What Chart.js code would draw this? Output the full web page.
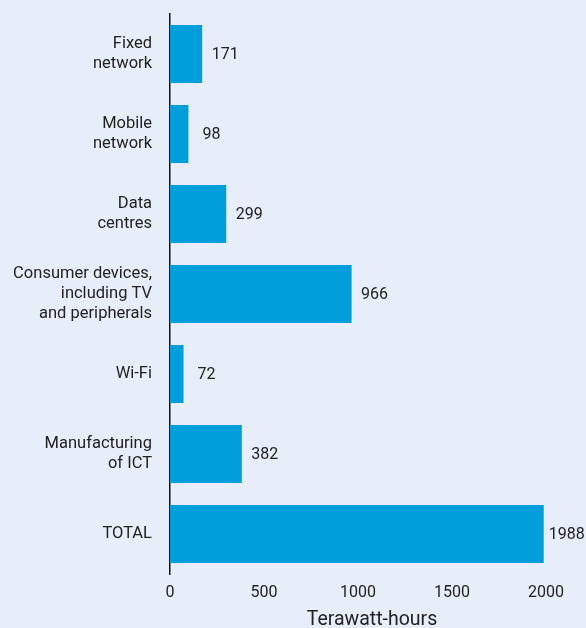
<!DOCTYPE html>
<html>
<head>
<meta charset="utf-8">
<script src="https://cdn.jsdelivr.net/npm/chart.js@4"></script>
<style>
  html, body { margin: 0; padding: 0; background: #e7eef9; }
  #wrap { width: 586px; height: 628px; }
</style>
</head>
<body>
<div id="wrap"><canvas id="chart" width="586" height="628"></canvas></div>
<script>
const categories = [
  ['Fixed', 'network'],
  ['Mobile', 'network'],
  ['Data', 'centres'],
  ['Consumer devices,', 'including TV', 'and peripherals'],
  ['Wi-Fi'],
  ['Manufacturing', 'of ICT'],
  ['TOTAL']
];
const values = [171, 98, 299, 966, 72, 382, 1988];
const xTicks = [0, 500, 1000, 1500, 2000];
const axisTitle = 'Terawatt-hours';

// value labels at bar ends + axis title (sits right of the plot centre)
const valueLabels = {
  id: 'valueLabels',
  afterDatasetsDraw(chart) {
    const ctx = chart.ctx;
    const meta = chart.getDatasetMeta(0);
    ctx.save();
    ctx.font = '16px Roboto';
    ctx.fillStyle = '#222';
    ctx.textAlign = 'center';
    ctx.textBaseline = 'middle';
    meta.data.forEach((bar, i) => {
      ctx.fillText(String(values[i]), bar.x + 23, bar.y + 1);
    });
    ctx.font = '19.5px Roboto';
    ctx.fillText(axisTitle, 372, 620);
    ctx.restore();
  }
};

new Chart(document.getElementById('chart').getContext('2d'), {
  type: 'bar',
  data: {
    labels: categories,
    datasets: [{
      data: values,
      backgroundColor: '#009fdb',
      barPercentage: 0.725,
      categoryPercentage: 1
    }]
  },
  options: {
    indexAxis: 'y',
    responsive: false,
    animation: false,
    layout: { padding: { top: 14, right: 40, bottom: 0, left: 0 } },
    plugins: { legend: { display: false }, tooltip: { enabled: false } },
    scales: {
      y: {
        grid: { display: false, drawTicks: false },
        border: { display: true, color: '#111', width: 1.5 },
        ticks: { color: '#222', font: { family: 'Roboto', size: 16.5, lineHeight: 1.2 }, padding: 18 },
        afterFit(s) { s.width = 170; s.paddingTop = 0; s.paddingBottom = 0; }
      },
      x: {
        min: 0,
        max: 2000,
        afterBuildTicks(s) { s.ticks = xTicks.map(v => ({ value: v })); },
        grid: { display: false, drawTicks: false },
        border: { display: false },
        ticks: { color: '#222', font: { family: 'Roboto', size: 16 }, padding: 9, callback: v => String(v) },
        afterFit(s) { s.height = 54; s.paddingLeft = 0; s.paddingRight = 0; }
      }
    }
  },
  plugins: [valueLabels]
});
</script>
</body>
</html>
